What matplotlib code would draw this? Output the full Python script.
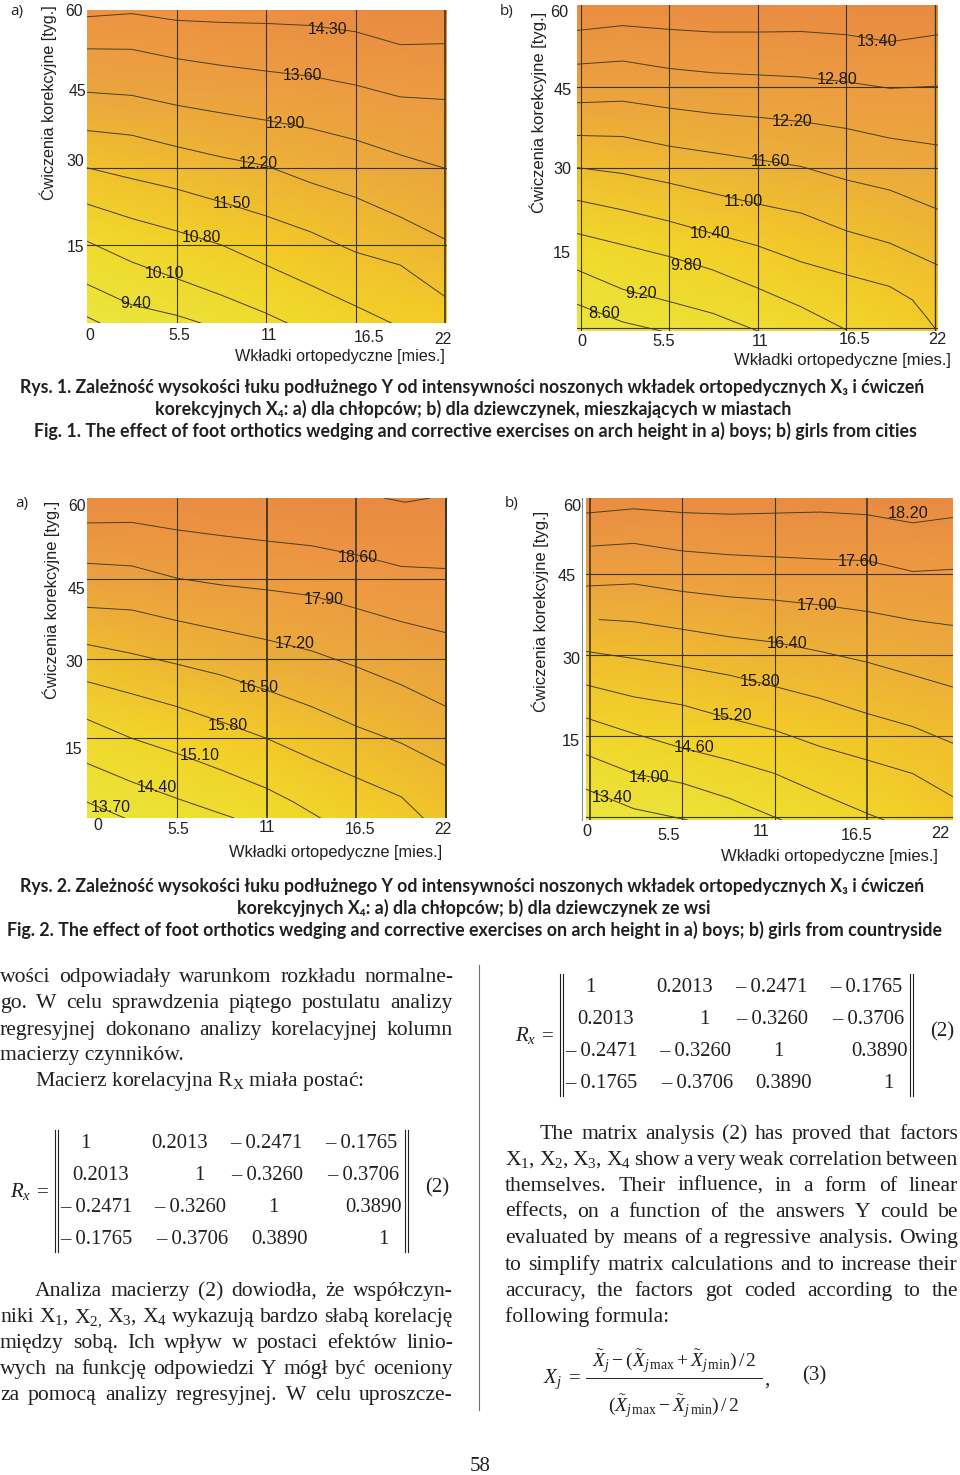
import matplotlib
matplotlib.use('Agg')
import matplotlib.pyplot as plt
from matplotlib.colors import LinearSegmentedColormap, Normalize
from matplotlib.transforms import ScaledTranslation

plt.rcParams['mathtext.fontset'] = 'custom'
plt.rcParams['mathtext.rm'] = 'Liberation Serif'
plt.rcParams['mathtext.it'] = 'Liberation Serif:italic'
plt.rcParams['mathtext.default'] = 'regular'

W, H = 960, 1475
INK = '#231f20'
SANS = 'Liberation Sans'
SERIF = 'Liberation Serif'
CAPTION = ['Lato', 'DejaVu Sans']

x_labels = ['0', '5.5', '11', '16.5', '22']
y_labels = ['15', '30', '45', '60']
x_title = 'Wkładki ortopedyczne [mies.]'
y_title = 'Ćwiczenia korekcyjne [tyg.]'

# contour lines in data units
xs = [0, 2.75, 5.5, 8.25, 11, 13.75, 16.5, 19.25, 22]

lines_1a = [
    (xs, [59.2, 59.8, 58.5, 58.1, 57.9, 57.5, 56.3, 53.8, 54.0]),
    (xs, [53.0, 52.9, 51.1, 49.8, 48.7, 47.7, 46.0, 43.7, 43.2]),
    (xs, [44.6, 44.0, 42.1, 40.6, 39.2, 37.6, 35.4, 32.5, 29.9]),
    (xs, [37.2, 36.3, 34.1, 32.1, 30.4, 27.1, 24.3, 20.5, 16.2]),
    (xs, [30.0, 27.9, 25.9, 23.4, 20.7, 17.6, 13.7, 11.2, 5.1]),
    ([0, 2.75, 5.5, 8.25, 11, 13.75, 16.5, 18.7], [23.0, 20.2, 17.8, 15.1, 11.2, 7.3, 3.3, 0]),
    ([0, 2.75, 5.5, 8.25, 11, 12.3], [15.8, 11.8, 8.6, 5.4, 1.9, 0]),
    ([0, 2.75, 5.5, 7.0], [7.5, 3.5, 1.5, 0]),
    ([0, 0.8], [1.2, 0]),
]
labels_1a = ['14.30', '13.60', '12.90', '12.20', '11.50', '10.80', '10.10', '9.40']
label_px_1a = [(328, 29), (302, 75), (285, 124), (258, 164), (232, 204), (201, 237), (165, 273), (136, 303)]
z_1a = [[8.7, 9.2, 10.0, 10.6, 11.0],
        [10.05, 10.6, 11.1, 11.6, 12.1],
        [11.5, 11.85, 12.2, 12.55, 12.9],
        [12.9, 13.15, 13.35, 13.5, 13.7],
        [14.4, 14.4, 14.6, 14.8, 14.9]]

xb = [-0.23, 2.6, 5.5, 8.2, 11, 13.7, 16.5, 19.2, 22.19]
lines_1b = [
    (xb, [55.6, 56.5, 55.8, 55.3, 55.3, 55.4, 54.8, 53.5, 54.8]),
    (xb, [49.3, 49.9, 48.5, 47.7, 47.3, 46.9, 46.0, 44.8, 45.2]),
    (xb, [42.1, 42.4, 41.1, 40.1, 39.4, 38.6, 37.3, 35.5, 34.2]),
    (xb, [36.0, 35.8, 34.0, 32.8, 31.5, 30.2, 27.7, 25.8, 22.2]),
    (xb, [30.0, 28.9, 27.1, 25.2, 23.2, 21.5, 18.2, 15.9, 11.8]),
    ([-0.23, 2.6, 5.5, 8.2, 11, 13.7, 16.5, 19.2, 20.6, 21.6, 22],
     [23.9, 22.1, 20.0, 17.7, 15.4, 12.4, 10.0, 7.8, 5.3, 1.6, 0]),
    ([-0.23, 2.6, 5.5, 8.2, 11, 13.7, 16.5], [17.7, 15.6, 13.4, 10.9, 7.5, 4.0, -0.3]),
    ([-0.23, 2.6, 5.5, 8.2, 11], [10.9, 7.3, 5.0, 2.8, -0.5]),
    ([-0.23, 2.6, 5.0], [4.5, 1.2, -0.5]),
]
labels_1b = ['13.40', '12.80', '12.20', '11.60', '11.00', '10.40', '9.80', '9.20', '8.60']
label_px_1b = [(877, 41), (837, 79), (792, 121), (770, 162), (743, 201), (710, 233), (686, 265), (641, 294), (604, 314)]
z_1b = [[8.2, 8.7, 9.2, 9.8, 10.4],
        [9.56, 9.95, 10.4, 10.75, 11.2],
        [11.0, 11.25, 11.5, 11.75, 12.0],
        [12.45, 12.5, 12.6, 12.7, 12.8],
        [13.8, 13.8, 13.9, 13.95, 14.0]]

lines_2a = [
    ([18.2, 19.5, 21.0], [60.3, 59.5, 60.3]),
    (xs, [55.6, 55.7, 54.3, 53.2, 52.2, 51.3, 49.6, 47.4, 47.0]),
    (xs, [48.0, 47.5, 45.2, 43.9, 43.0, 41.9, 39.5, 37.0, 34.9]),
    (xs, [39.7, 39.2, 37.2, 35.4, 33.6, 31.5, 28.5, 25.1, 21.0]),
    (xs, [32.7, 31.0, 29.0, 26.9, 24.1, 21.0, 17.3, 14.1, 9.8]),
    ([0, 2.75, 5.5, 8.25, 11, 13.75, 16.5, 19.25, 20.6], [25.7, 23.4, 21.0, 18.1, 15.0, 11.2, 7.6, 4.0, 0]),
    ([0, 2.75, 5.5, 8.25, 11, 12.6, 14.3], [18.6, 15.0, 12.2, 9.0, 5.6, 3.1, 0]),
    ([0, 2.75, 5.5, 9.0], [10.3, 6.8, 3.7, 0]),
    ([0, 2.3], [3.0, 0]),
]
labels_2a = ['18.60', '17.90', '17.20', '16.50', '15.80', '15.10', '14.40', '13.70']
label_px_2a = [(358, 557), (324, 599), (295, 644), (259, 688), (228, 725), (200, 756), (157, 787), (111, 808)]
z_2a = [[13.4, 14.1, 14.7, 15.4, 16.0],
        [14.8, 15.3, 15.8, 16.3, 16.8],
        [16.2, 16.6, 17.0, 17.3, 17.65],
        [17.6, 17.9, 18.05, 18.3, 18.45],
        [19.1, 19.1, 19.2, 19.3, 19.3]]

xc = [-0.24, 2.6, 5.5, 8.3, 11, 13.7, 16.5, 19.2, 21.6]
lines_2b = [
    (xc, [56.2, 57.0, 56.3, 56.0, 56.2, 56.4, 55.9, 54.4, 55.4]),
    ([0.1] + xc[1:], [50.1, 50.6, 49.2, 48.5, 48.1, 47.7, 47.4, 45.4, 45.8]),
    (xc, [42.7, 43.1, 41.7, 40.7, 40.1, 39.2, 38.0, 36.4, 35.4]),
    ([0.55] + xc[1:], [36.5, 36.1, 34.7, 33.3, 32.3, 30.6, 28.6, 26.2, 24.0]),
    (xc, [30.6, 29.3, 27.8, 26.2, 24.1, 21.9, 19.1, 16.7, 13.6]),
    (xc, [24.4, 22.2, 20.7, 18.2, 16.0, 13.0, 10.5, 8.0, 3.7]),
    ([-0.24, 2.6, 5.5, 8.3, 11, 13.7, 16.5, 17.5], [18.3, 15.4, 12.7, 10.5, 8.0, 4.3, 0.6, -0.6]),
    ([-0.24, 2.6, 5.5, 8.3, 11.4], [11.5, 8.0, 6.2, 3.4, -0.6]),
    ([-0.24, 2.6, 5.8], [5.1, 1.5, -0.6]),
]
labels_2b = ['18.20', '17.60', '17.00', '16.40', '15.80', '15.20', '14.60', '14.00', '13.40']
label_px_2b = [(908, 514), (858, 561), (817, 605), (787, 643), (760, 681), (732, 716), (694, 747), (649, 778), (612, 798)]
z_2b = [[13.0, 13.4, 14.0, 14.6, 15.3],
        [14.55, 14.8, 15.15, 15.5, 15.8],
        [15.75, 15.95, 16.2, 16.4, 16.7],
        [17.2, 17.3, 17.45, 17.55, 17.6],
        [18.6, 18.6, 18.65, 18.7, 18.75]]

matrix = [['1', '0.2013', '– 0.2471', '– 0.1765'],
          ['0.2013', '1', '– 0.3260', '– 0.3706'],
          ['– 0.2471', '– 0.3260', '1', '0.3890'],
          ['– 0.1765', '– 0.3706', '0.3890', '1']]
matrix_x = [[85, 180, 266, 361],
            [101, 199, 267, 363],
            [96, 190, 273, 374],
            [96, 192, 279, 383]]

cmap = LinearSegmentedColormap.from_list('page', [
    (0, '#eae63e'), (0.22, '#f0dc2c'), (0.37, '#f4cd26'), (0.45, '#f1c22b'), (0.58, '#ecb038'),
    (0.68, '#eaa53f'), (0.85, '#ee9642'), (0.92, '#ee9242'), (1, '#e88a42')])

fig = plt.figure(figsize=(W / 100, H / 100), dpi=100)
page = fig.add_axes([0, 0, 1, 1], zorder=5)
page.set_xlim(0, W)
page.set_ylim(H, 0)
page.axis('off')
renderer = fig.canvas.get_renderer()


def panel(box, xlim, ylim, z, lines, vlines, hlines, xticks, yticks, xoff, yoff, tsize):
    left, top, right, bottom = box
    ax = fig.add_axes([left / W, 1 - bottom / H, (right - left) / W, (bottom - top) / H])
    gx = [xlim[0], 5.5, 11, 16.5, xlim[1]]
    gy = [ylim[0], 15, 30, 45, ylim[1]]
    ax.pcolormesh(gx, gy, z, shading='gouraud', cmap=cmap, norm=Normalize(z[0][0], z[-1][-1]))
    for lx, ly in lines:
        ax.plot(lx, ly, color='#4a3f1e', lw=0.7)
    for v, lw in vlines:
        ax.axvline(v, color='#3a3524', lw=lw)
    for h in hlines:
        ax.axhline(h, color='#3a3524', lw=0.8)
    ax.set_xlim(xlim)
    ax.set_ylim(ylim)
    for s in ax.spines.values():
        s.set_visible(False)
    ax.set_xticks(xticks, x_labels, family=SANS, fontsize=tsize, color=INK)
    ax.set_yticks(yticks, y_labels, family=SANS, fontsize=tsize, color=INK)
    ax.tick_params(length=0, pad=0)
    # the tick labels sit off their grid lines on the page
    for lab, (dx, dy) in zip(ax.get_xticklabels(), xoff):
        lab.set_va('center')
        lab.set_transform(lab.get_transform() + ScaledTranslation(dx / 100, -dy / 100, fig.dpi_scale_trans))
    for lab, (dx, dy) in zip(ax.get_yticklabels(), yoff):
        lab.set_va('center')
        lab.set_transform(lab.get_transform() + ScaledTranslation(dx / 100, -dy / 100, fig.dpi_scale_trans))
    return ax


def titles(ax, ypos, xpos, size):
    ax.set_ylabel(y_title, family=SANS, fontsize=size, color=INK, va='center', ha='center')
    ax.yaxis.set_label_coords(ypos[0], ypos[1], transform=page.transData)
    ax.set_xlabel(x_title, family=SANS, fontsize=size, color=INK, va='center', ha='center')
    ax.xaxis.set_label_coords(xpos[0], xpos[1], transform=page.transData)


def big_labels(labels, pos, size):
    for s, (px, py) in zip(labels, pos):
        page.text(px, py, s, family=SANS, fontsize=size, color='#1e1a10', ha='center', va='center')


def width(s, **kw):
    t = page.text(0, 0, s, **kw)
    w = t.get_window_extent(renderer).width
    t.remove()
    return w


def justified(x0, x1, y, s, size, family=SERIF):
    words = s.split(' ')
    ws = [width(w, family=family, fontsize=size) for w in words]
    gap = (x1 - x0 - sum(ws)) / (len(words) - 1)
    x = x0
    for w, wd in zip(words, ws):
        page.text(x, y, w, family=family, fontsize=size, color=INK, va='baseline')
        x += wd + gap


def caption(x0, x1, y, s):
    t = page.text(x0, y, s, family=CAPTION, fontweight='bold', fontsize=11.5, color=INK, va='baseline')
    t.set_fontsize(11.5 * (x1 - x0) / t.get_window_extent(renderer).width)


ax = panel((87, 10, 447, 323), (0, 22.12), (0, 60.5), z_1a, lines_1a,
           [(5.5, 0.8), (11, 0.8), (16.5, 0.8), (22, 1.2)], [15, 30],
           [0, 5.5, 11, 16.5, 22], [15, 30, 45, 60],
           [(3, 12), (3, 12), (3, 12), (13, 14), (-2, 16)], [(-3, 2), (-3, -6), (-1, 1), (-4, -1)], 11.3)
titles(ax, (48, 103), (340, 357), 11.6)
big_labels(labels_1a, label_px_1a, 11.3)

ax = panel((577, 5, 938, 331), (-0.23, 22.19), (-0.5, 60.35), z_1b, lines_1b,
           [(0, 0.8), (5.5, 0.8), (11, 0.8), (16.5, 0.8), (22, 1.0)], [0, 30, 45],
           [0, 5.5, 11, 16.5, 22], [15, 30, 45, 60],
           [(1, 11), (-6, 11), (2, 11), (8, 9), (2, 8)], [(-6, 6), (-6, 2), (-5, 3), (-9, 6)], 11.7)
titles(ax, (538, 112), (842, 360), 12)
big_labels(labels_1b, label_px_1b, 11.7)

ax = panel((87, 498, 447, 818), (0, 22.05), (0, 60.3), z_2a, lines_2a,
           [(5.5, 0.8), (11, 1.3), (16.5, 1.2), (22, 1.4)], [15, 30, 45],
           [0, 5.5, 11, 16.5, 22], [15, 30, 45, 60],
           [(11, 8), (1, 11), (0, 10), (4, 12), (-3, 11)], [(-5, 11), (-4, 4), (-2, 10), (-1, 7)], 11.3)
titles(ax, (51, 600), (336, 853), 11.8)
big_labels(labels_2a, label_px_2a, 11.5)

# the last grid positions of this panel run past the crop, so the outer ticks sit at its edge
ax = panel((586, 498, 953, 820), (-0.24, 21.6), (-0.6, 59.0), z_2b, lines_2b,
           [(0, 1.2), (5.5, 0.8), (11, 0.8), (16.5, 1.2)], [0, 15, 30, 45],
           [0, 5.5, 11, 16.5, 21.5], [15, 30, 45, 58.9],
           [(-3, 12), (-14, 15), (-14, 12), (-11, 15), (-11, 14)], [(-6, 6), (-6, 5), (-10, 3), (-5, 8)], 11.7)
titles(ax, (540, 611), (829, 857), 12)
big_labels(labels_2b, label_px_2b, 11.7)
page.plot([582, 582], [498, 820], color='#7d8a99', lw=0.8)

for px, py, s in [(17, 12, 'a)'), (507, 11, 'b)'), (22, 504, 'a)'), (512, 504, 'b)')]:
    page.text(px, py, s, family='Open Sans', fontsize=11, color=INK, ha='center', va='center')

caption(20, 923, 393, 'Rys. 1. Zależność wysokości łuku podłużnego Y od intensywności noszonych wkładek ortopedycznych X₃ i ćwiczeń')
caption(155, 790, 415, 'korekcyjnych X₄: a) dla chłopców; b) dla dziewczynek, mieszkających w miastach')
caption(34, 910, 437, 'Fig. 1. The effect of foot orthotics wedging and corrective exercises on arch height in a) boys; b) girls from cities')
caption(20, 923, 892, 'Rys. 2. Zależność wysokości łuku podłużnego Y od intensywności noszonych wkładek ortopedycznych X₃ i ćwiczeń')
caption(237, 707, 914, 'korekcyjnych X₄: a) dla chłopców; b) dla dziewczynek ze wsi')
caption(7, 937, 936, 'Fig. 2. The effect of foot orthotics wedging and corrective exercises on arch height in a) boys; b) girls from countryside')

BODY = 15.6
justified(0, 453, 982, 'wości odpowiadały warunkom rozkładu normalne-', BODY)
justified(0, 453, 1008, 'go. W celu sprawdzenia piątego postulatu analizy', BODY)
justified(0, 453, 1035, 'regresyjnej dokonano analizy korelacyjnej kolumn', BODY)
page.text(0, 1060, 'macierzy czynników.', family=SERIF, fontsize=BODY, color=INK, va='baseline')
page.text(35, 1086, 'Macierz korelacyjna R$_{X}$ miała postać:', family=SERIF, fontsize=BODY, color=INK, va='baseline')

justified(35, 453, 1296, 'Analiza macierzy (2) dowiodła, że współczyn-', BODY)
justified(0, 453, 1322, 'niki X$_{1}$, X$_{2,}$ X$_{3}$, X$_{4}$ wykazują bardzo słabą korelację', BODY)
justified(0, 453, 1348, 'między sobą. Ich wpływ w postaci efektów linio-', BODY)
justified(0, 453, 1374, 'wych na funkcję odpowiedzi Y mógł być oceniony', BODY)
justified(0, 453, 1400, 'za pomocą analizy regresyjnej. W celu uproszcze-', BODY)

justified(540, 958, 1139, 'The matrix analysis (2) has proved that factors', BODY)
justified(505, 958, 1165, 'X$_{1}$, X$_{2}$, X$_{3}$, X$_{4}$ show a very weak correlation between', BODY)
justified(505, 958, 1191, 'themselves. Their influence, in a form of linear', BODY)
justified(505, 958, 1217, 'effects, on a function of the answers Y could be', BODY)
justified(505, 958, 1243, 'evaluated by means of a regressive analysis. Owing', BODY)
justified(505, 958, 1270, 'to simplify matrix calculations and to increase their', BODY)
justified(505, 958, 1296, 'accuracy, the factors got coded according to the', BODY)
page.text(505, 1322, 'following formula:', family=SERIF, fontsize=BODY, color=INK, va='baseline')

page.plot([479, 479], [965, 1410], color='#6d6e71', lw=0.8)

# the matrix appears twice on the page
for dx, dy in [(0, 0), (505, -156)]:
    for row, cols, base in zip(matrix, matrix_x, [1148, 1180, 1212, 1244]):
        for s, cx in zip(row, cols):
            page.text(cx + dx, base + dy, s, family=SERIF, fontsize=14.9, color=INK, ha='center', va='baseline')
    for bx in [55, 58, 405, 408]:
        page.plot([bx + dx, bx + dx], [1130 + dy, 1252 + dy], color=INK, lw=0.8)
    page.text(10 + dx, 1197 + dy, r'$\mathit{R}_{\mathit{x}}$', family=SERIF, fontsize=15, color=INK, va='baseline')
    page.text(37 + dx, 1197 + dy, '=', family=SERIF, fontsize=15, color=INK, va='baseline')
    page.text(425 + dx, 1192 + dy, '(2)', family=SERIF, fontsize=15, color=INK, va='baseline')

page.text(543, 1383, r'$\mathit{X}_{\mathit{j}}$', family=SERIF, fontsize=15, color=INK, va='baseline')
page.text(569, 1383, '=', family=SERIF, fontsize=15, color=INK, va='baseline')
page.text(674, 1367, r'$\tilde{\mathit{X}}_{\mathit{j}}-(\tilde{\mathit{X}}_{\mathit{j}\,\mathrm{max}}+\tilde{\mathit{X}}_{\mathit{j}\,\mathrm{min}})\,/\,2$',
          family=SERIF, fontsize=14, color=INK, ha='center', va='baseline')
page.plot([586, 762], [1378, 1378], color=INK, lw=0.7)
page.text(674, 1412, r'$(\tilde{\mathit{X}}_{\mathit{j}\,\mathrm{max}}-\tilde{\mathit{X}}_{\mathit{j}\,\mathrm{min}})\,/\,2$',
          family=SERIF, fontsize=14, color=INK, ha='center', va='baseline')
page.text(764, 1385, ',', family=SERIF, fontsize=15, color=INK, va='baseline')
page.text(802, 1380, '(3)', family=SERIF, fontsize=15, color=INK, va='baseline')

page.text(480, 1471, '58', family=SERIF, fontsize=15, color=INK, ha='center', va='baseline')

page.set_xlim(0, W)
page.set_ylim(H, 0)
fig.savefig('out.png', dpi=100)
